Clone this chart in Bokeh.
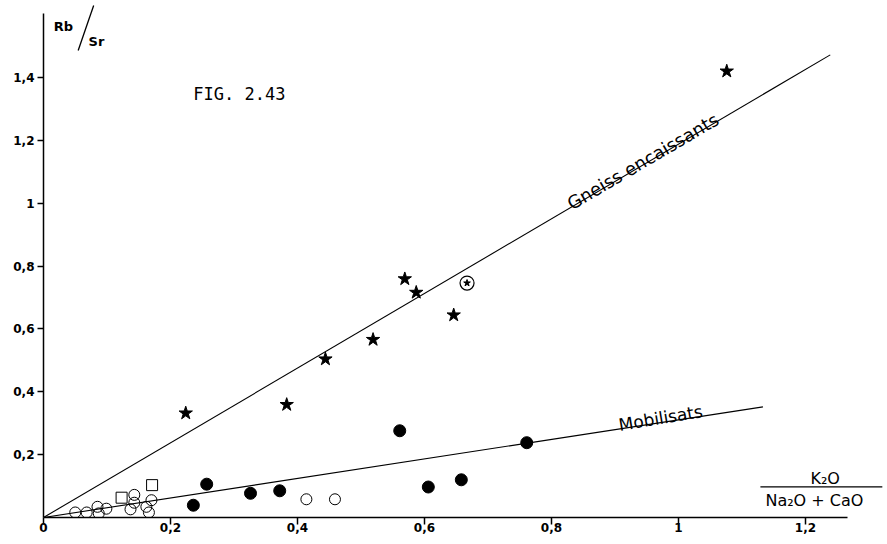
from bokeh.plotting import figure
from bokeh.models import Range1d, FixedTicker, CustomJSTickFormatter, Label, Arrow
from bokeh.core.properties import value
from bokeh.embed import file_html
from bokeh.resources import INLINE

# ---- data ----
x_ticks = [0, 0.2, 0.4, 0.6, 0.8, 1.0, 1.2]
y_ticks = [0.2, 0.4, 0.6, 0.8, 1.0, 1.2, 1.4]

gneiss_x = [0.224, 0.383, 0.444, 0.519, 0.569, 0.587, 0.646, 1.076]
gneiss_y = [0.332, 0.359, 0.504, 0.566, 0.759, 0.716, 0.644, 1.420]

circled_x = [0.667]
circled_y = [0.746]

mob_filled_x = [0.236, 0.257, 0.326, 0.372, 0.561, 0.606, 0.658, 0.761]
mob_filled_y = [0.039, 0.106, 0.077, 0.085, 0.276, 0.097, 0.120, 0.238]

open_x = [0.050, 0.068, 0.085, 0.087, 0.099, 0.137, 0.143, 0.143, 0.162, 0.166, 0.170, 0.414, 0.459]
open_y = [0.016, 0.016, 0.034, 0.013, 0.028, 0.026, 0.072, 0.047, 0.034, 0.016, 0.055, 0.058, 0.058]

square_x = [0.123, 0.171]
square_y = [0.063, 0.103]

gneiss_line_x = [0.0, 1.239]
gneiss_line_y = [0.0, 1.472]
mob_line_x = [0.0, 1.133]
mob_line_y = [0.0, 0.352]

# ---- figure ----
p = figure(width=887, height=544, output_backend="svg", toolbar_location=None,
           x_range=Range1d(0, 1.326), y_range=Range1d(0, 1.645),
           min_border_left=43, min_border_right=2, min_border_top=0, min_border_bottom=27)
p.outline_line_color = None
p.grid.visible = False
p.background_fill_color = "white"
p.border_fill_color = "white"

fmt = CustomJSTickFormatter(code="return (Math.round(tick*10)/10).toString().replace('.', ',');")
for ax, ticks in ((p.xaxis[0], x_ticks), (p.yaxis[0], y_ticks)):
    ax.ticker = FixedTicker(ticks=ticks)
    ax.formatter = fmt
    ax.axis_line_color = "black"
    ax.axis_line_width = 1.5
    ax.major_tick_line_color = "black"
    ax.major_tick_line_width = 1.5
    ax.minor_tick_line_color = None
    ax.major_tick_in = 0
    ax.major_label_text_font = "DejaVu Sans"
    ax.major_label_text_font_style = "bold"
    ax.major_label_text_font_size = "12px"
    ax.major_label_text_color = "black"

p.xaxis.bounds = (0, 1.266)
p.yaxis.bounds = (0, 1.604)
p.xaxis.major_tick_out = 7
p.xaxis.major_label_standoff = -2
p.yaxis.major_tick_out = 6
p.yaxis.major_label_standoff = 3

# lines
p.line(gneiss_line_x, gneiss_line_y, line_color="black", line_width=1.1)
p.line(mob_line_x, mob_line_y, line_color="black", line_width=1.1)

# markers
p.scatter(gneiss_x, gneiss_y, marker="star", size=14, fill_color="black", line_color="black")
p.scatter(circled_x, circled_y, marker="circle", size=14, fill_color=None, line_color="black", line_width=1.2)
p.scatter(circled_x, circled_y, marker="star", size=7, fill_color="black", line_color="black")
p.scatter(mob_filled_x, mob_filled_y, marker="circle", size=12, fill_color="black", line_color="black")
p.scatter(open_x, open_y, marker="circle", size=11, fill_color=None, line_color="black", line_width=1)
p.scatter(square_x, square_y, marker="square", size=11, fill_color=None, line_color="black", line_width=1)

# line labels
p.text(x=[0.827], y=[0.982], text=["Gneiss  encaissants"], angle=30.4, angle_units="deg",
       y_offset=-4, text_font=value("DejaVu Sans"), text_font_size="18px",
       text_baseline="alphabetic", text_align="left", text_color="black")
p.text(x=[0.906], y=[0.2814], text=["Mobilisats"], angle=9.5, angle_units="deg",
       y_offset=-4, text_font=value("DejaVu Sans"), text_font_size="17px",
       text_baseline="alphabetic", text_align="left", text_color="black")

# figure number
p.text(x=[0.236], y=[1.349], text=["FIG. 2.43"], text_font=value("DejaVu Sans Mono"),
       text_font_size="17px", text_baseline="alphabetic", text_align="left", text_color="black")

# y label Rb/Sr
p.add_layout(Label(x=0.016, y=1.562, text="Rb", text_font="DejaVu Sans", text_font_style="bold",
                   text_font_size="13px", text_baseline="alphabetic", text_color="black"))
p.add_layout(Label(x=0.071, y=1.514, text="Sr", text_font="DejaVu Sans", text_font_style="bold",
                   text_font_size="13px", text_baseline="alphabetic", text_color="black"))
p.add_layout(Arrow(end=None, x_start=0.079, y_start=1.629, x_end=0.0546, y_end=1.486,
                   line_color="black", line_width=1.3))

# x label fraction
p.add_layout(Label(x=1.231, y=0.123, text="K₂O", text_font="DejaVu Sans", text_font_size="16px",
                   text_align="center", text_baseline="alphabetic", text_color="black"))
p.add_layout(Arrow(end=None, x_start=1.129, y_start=0.0975, x_end=1.321, y_end=0.0975,
                   line_color="black", line_width=1.2))
p.add_layout(Label(x=1.214, y=0.053, text="Na₂O + CaO", text_font="DejaVu Sans", text_font_size="16px",
                   text_align="center", text_baseline="alphabetic", text_color="black"))

open("out.html", "w").write(file_html(p, INLINE))
